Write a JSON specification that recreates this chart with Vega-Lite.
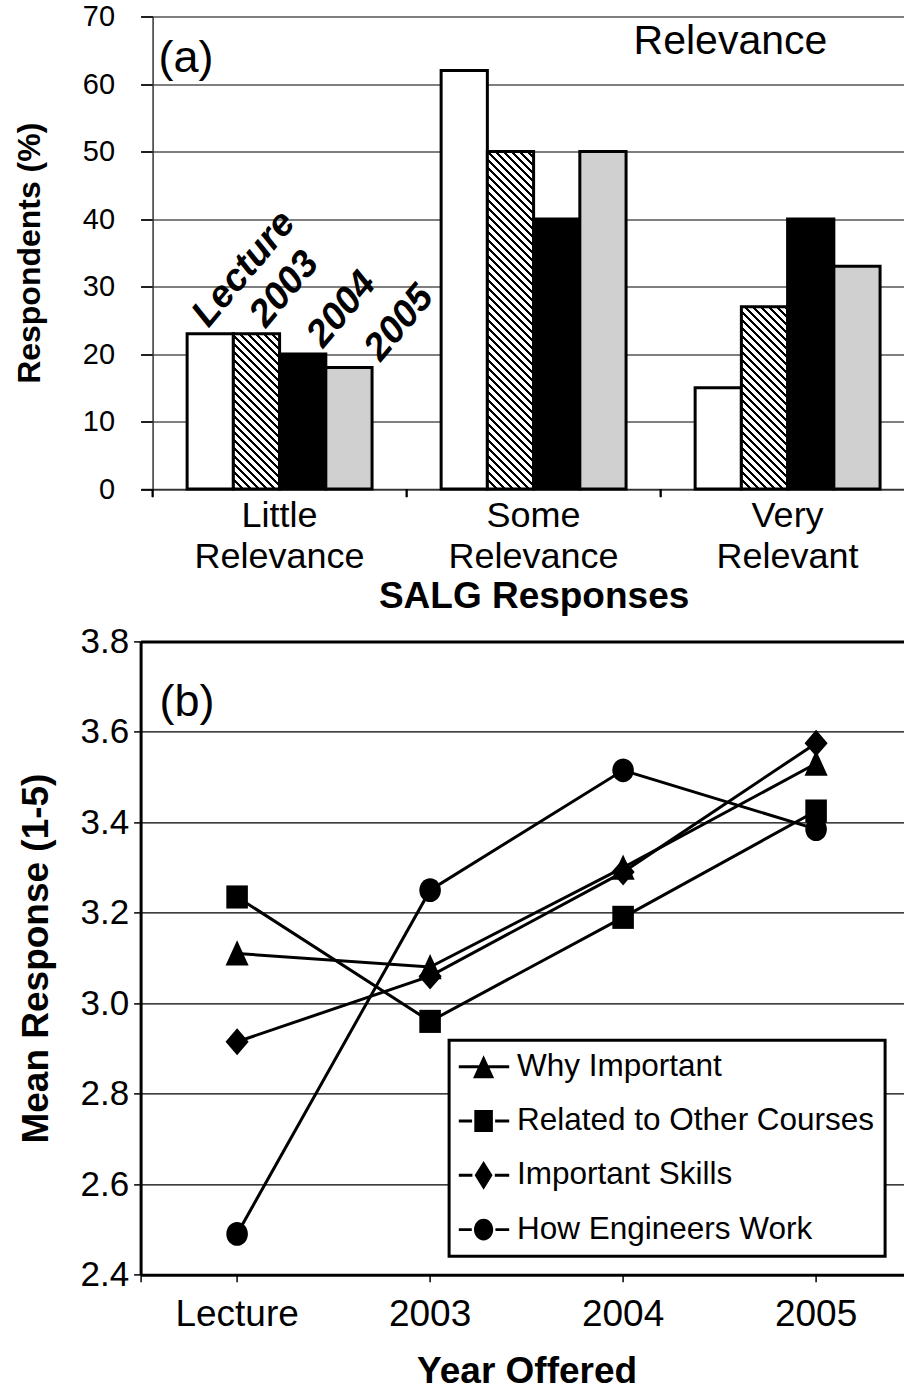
{
  "$schema": "https://vega.github.io/schema/vega-lite/v6.json",
  "padding": {"top": 2.5, "left": 12.6, "right": 0, "bottom": 0},
  "background": "white",
  "config": {
    "font": "Liberation Sans",
    "view": {"stroke": null},
    "axis": {"labelColor": "black", "titleColor": "black", "tickColor": "black", "domainColor": "black", "gridColor": "black", "gridOpacity": 1}
  },
  "datasets": {
    "bars": [
      {"group": "Little Relevance", "year": "Lecture", "pct": 23},
      {"group": "Little Relevance", "year": "2003", "pct": 23},
      {"group": "Little Relevance", "year": "2004", "pct": 20},
      {"group": "Little Relevance", "year": "2005", "pct": 18},
      {"group": "Some Relevance", "year": "Lecture", "pct": 62},
      {"group": "Some Relevance", "year": "2003", "pct": 50},
      {"group": "Some Relevance", "year": "2004", "pct": 40},
      {"group": "Some Relevance", "year": "2005", "pct": 50},
      {"group": "Very Relevant", "year": "Lecture", "pct": 15},
      {"group": "Very Relevant", "year": "2003", "pct": 27},
      {"group": "Very Relevant", "year": "2004", "pct": 40},
      {"group": "Very Relevant", "year": "2005", "pct": 33}
    ],
    "lines": [
      {"series": "Why Important", "year": "Lecture", "value": 3.11},
      {"series": "Why Important", "year": "2003", "value": 3.08},
      {"series": "Why Important", "year": "2004", "value": 3.30},
      {"series": "Why Important", "year": "2005", "value": 3.53},
      {"series": "Related to Other Courses", "year": "Lecture", "value": 3.235},
      {"series": "Related to Other Courses", "year": "2003", "value": 2.96},
      {"series": "Related to Other Courses", "year": "2004", "value": 3.19},
      {"series": "Related to Other Courses", "year": "2005", "value": 3.425},
      {"series": "Important Skills", "year": "Lecture", "value": 2.915},
      {"series": "Important Skills", "year": "2003", "value": 3.06},
      {"series": "Important Skills", "year": "2004", "value": 3.29},
      {"series": "Important Skills", "year": "2005", "value": 3.575},
      {"series": "How Engineers Work", "year": "Lecture", "value": 2.49},
      {"series": "How Engineers Work", "year": "2003", "value": 3.25},
      {"series": "How Engineers Work", "year": "2004", "value": 3.515},
      {"series": "How Engineers Work", "year": "2005", "value": 3.385}
    ]
  },
  "columns": 1,
  "spacing": 9.9,
  "concat": [
    {
      "width": 786,
      "height": 472.5,
      "data": {"name": "bars"},
      "resolve": {"scale": {"xOffset": "independent"}},
      "layer": [
        {
          "mark": {"type": "bar", "stroke": "black", "strokeWidth": 3},
          "encoding": {
            "x": {
              "field": "group", "type": "nominal",
              "sort": ["Little Relevance", "Some Relevance", "Very Relevant"],
              "scale": {"paddingInner": 0, "paddingOuter": 0.0472},
              "axis": {
                "title": "SALG Responses", "titleFontSize": 37, "titleFontWeight": "bold", "titlePadding": 4.3,
                "labelAngle": 0, "labelFontSize": 36, "labelExpr": "split(datum.label, ' ')", "labelLineHeight": 40.6,
                "labelPadding": 9.6, "labelLimit": 0, "ticks": false, "tickSize": 0,
                "domainWidth": 1.5, "domainColor": "#333333", "grid": false
              }
            },
            "xOffset": {
              "field": "year", "type": "nominal", "sort": ["Lecture", "2003", "2004", "2005"],
              "scale": {"paddingInner": 0, "paddingOuter": 0.747}
            },
            "y": {
              "field": "pct", "type": "quantitative",
              "scale": {"domain": [0, 70]},
              "axis": {
                "title": "Respondents (%)", "titleFontSize": 32, "titleFontWeight": "bold", "titlePadding": 36.15,
                "offset": -12,
                "values": [0, 10, 20, 30, 40, 50, 60, 70], "labelFontSize": 29, "labelPadding": 26,
                "tickSize": 12, "tickWidth": 1.5, "domainWidth": 1.5, "domainColor": "#333333",
                "grid": true, "gridWidth": 1.2
              }
            },
            "fill": {
              "condition": [
                {"test": "datum.year === '2003' && datum.group === 'Little Relevance'",
                 "value": {"gradient": "linear", "x1": 0, "y1": 1, "x2": 0.7047, "y2": -1.3666, "stops": [
                  {"offset":0,"color":"#000"},{"offset":0.009,"color":"#000"},{"offset":0.009,"color":"#fff"},{"offset":0.02,"color":"#fff"},
                  {"offset":0.02,"color":"#000"},{"offset":0.029,"color":"#000"},{"offset":0.029,"color":"#fff"},{"offset":0.04,"color":"#fff"},
                  {"offset":0.04,"color":"#000"},{"offset":0.049,"color":"#000"},{"offset":0.049,"color":"#fff"},{"offset":0.06,"color":"#fff"},
                  {"offset":0.06,"color":"#000"},{"offset":0.069,"color":"#000"},{"offset":0.069,"color":"#fff"},{"offset":0.08,"color":"#fff"},
                  {"offset":0.08,"color":"#000"},{"offset":0.089,"color":"#000"},{"offset":0.089,"color":"#fff"},{"offset":0.1,"color":"#fff"},
                  {"offset":0.1,"color":"#000"},{"offset":0.109,"color":"#000"},{"offset":0.109,"color":"#fff"},{"offset":0.12,"color":"#fff"},
                  {"offset":0.12,"color":"#000"},{"offset":0.129,"color":"#000"},{"offset":0.129,"color":"#fff"},{"offset":0.14,"color":"#fff"},
                  {"offset":0.14,"color":"#000"},{"offset":0.149,"color":"#000"},{"offset":0.149,"color":"#fff"},{"offset":0.16,"color":"#fff"},
                  {"offset":0.16,"color":"#000"},{"offset":0.169,"color":"#000"},{"offset":0.169,"color":"#fff"},{"offset":0.18,"color":"#fff"},
                  {"offset":0.18,"color":"#000"},{"offset":0.189,"color":"#000"},{"offset":0.189,"color":"#fff"},{"offset":0.2,"color":"#fff"},
                  {"offset":0.2,"color":"#000"},{"offset":0.209,"color":"#000"},{"offset":0.209,"color":"#fff"},{"offset":0.22,"color":"#fff"},
                  {"offset":0.22,"color":"#000"},{"offset":0.229,"color":"#000"},{"offset":0.229,"color":"#fff"},{"offset":0.24,"color":"#fff"},
                  {"offset":0.24,"color":"#000"},{"offset":0.249,"color":"#000"},{"offset":0.249,"color":"#fff"},{"offset":0.26,"color":"#fff"},
                  {"offset":0.26,"color":"#000"},{"offset":0.269,"color":"#000"},{"offset":0.269,"color":"#fff"},{"offset":0.28,"color":"#fff"},
                  {"offset":0.28,"color":"#000"},{"offset":0.289,"color":"#000"},{"offset":0.289,"color":"#fff"},{"offset":0.3,"color":"#fff"},
                  {"offset":0.3,"color":"#000"},{"offset":0.309,"color":"#000"},{"offset":0.309,"color":"#fff"},{"offset":0.32,"color":"#fff"},
                  {"offset":0.32,"color":"#000"},{"offset":0.329,"color":"#000"},{"offset":0.329,"color":"#fff"},{"offset":0.34,"color":"#fff"},
                  {"offset":0.34,"color":"#000"},{"offset":0.349,"color":"#000"},{"offset":0.349,"color":"#fff"},{"offset":0.36,"color":"#fff"},
                  {"offset":0.36,"color":"#000"},{"offset":0.369,"color":"#000"},{"offset":0.369,"color":"#fff"},{"offset":0.38,"color":"#fff"},
                  {"offset":0.38,"color":"#000"},{"offset":0.389,"color":"#000"},{"offset":0.389,"color":"#fff"},{"offset":0.4,"color":"#fff"},
                  {"offset":0.4,"color":"#000"},{"offset":0.409,"color":"#000"},{"offset":0.409,"color":"#fff"},{"offset":0.42,"color":"#fff"},
                  {"offset":0.42,"color":"#000"},{"offset":0.429,"color":"#000"},{"offset":0.429,"color":"#fff"},{"offset":0.44,"color":"#fff"},
                  {"offset":0.44,"color":"#000"},{"offset":0.449,"color":"#000"},{"offset":0.449,"color":"#fff"},{"offset":0.46,"color":"#fff"},
                  {"offset":0.46,"color":"#000"},{"offset":0.469,"color":"#000"},{"offset":0.469,"color":"#fff"},{"offset":0.48,"color":"#fff"},
                  {"offset":0.48,"color":"#000"},{"offset":0.489,"color":"#000"},{"offset":0.489,"color":"#fff"},{"offset":0.5,"color":"#fff"},
                  {"offset":0.5,"color":"#000"},{"offset":0.509,"color":"#000"},{"offset":0.509,"color":"#fff"},{"offset":0.52,"color":"#fff"}
                 ]}},
                {"test": "datum.year === '2003' && datum.group === 'Some Relevance'",
                 "value": {"gradient": "linear", "x1": 0, "y1": 1, "x2": 0.15936, "y2": -0.16336, "stops": [
                  {"offset":0,"color":"#000"},{"offset":0.009,"color":"#000"},{"offset":0.009,"color":"#fff"},{"offset":0.02,"color":"#fff"},
                  {"offset":0.02,"color":"#000"},{"offset":0.029,"color":"#000"},{"offset":0.029,"color":"#fff"},{"offset":0.04,"color":"#fff"},
                  {"offset":0.04,"color":"#000"},{"offset":0.049,"color":"#000"},{"offset":0.049,"color":"#fff"},{"offset":0.06,"color":"#fff"},
                  {"offset":0.06,"color":"#000"},{"offset":0.069,"color":"#000"},{"offset":0.069,"color":"#fff"},{"offset":0.08,"color":"#fff"},
                  {"offset":0.08,"color":"#000"},{"offset":0.089,"color":"#000"},{"offset":0.089,"color":"#fff"},{"offset":0.1,"color":"#fff"},
                  {"offset":0.1,"color":"#000"},{"offset":0.109,"color":"#000"},{"offset":0.109,"color":"#fff"},{"offset":0.12,"color":"#fff"},
                  {"offset":0.12,"color":"#000"},{"offset":0.129,"color":"#000"},{"offset":0.129,"color":"#fff"},{"offset":0.14,"color":"#fff"},
                  {"offset":0.14,"color":"#000"},{"offset":0.149,"color":"#000"},{"offset":0.149,"color":"#fff"},{"offset":0.16,"color":"#fff"},
                  {"offset":0.16,"color":"#000"},{"offset":0.169,"color":"#000"},{"offset":0.169,"color":"#fff"},{"offset":0.18,"color":"#fff"},
                  {"offset":0.18,"color":"#000"},{"offset":0.189,"color":"#000"},{"offset":0.189,"color":"#fff"},{"offset":0.2,"color":"#fff"},
                  {"offset":0.2,"color":"#000"},{"offset":0.209,"color":"#000"},{"offset":0.209,"color":"#fff"},{"offset":0.22,"color":"#fff"},
                  {"offset":0.22,"color":"#000"},{"offset":0.229,"color":"#000"},{"offset":0.229,"color":"#fff"},{"offset":0.24,"color":"#fff"},
                  {"offset":0.24,"color":"#000"},{"offset":0.249,"color":"#000"},{"offset":0.249,"color":"#fff"},{"offset":0.26,"color":"#fff"},
                  {"offset":0.26,"color":"#000"},{"offset":0.269,"color":"#000"},{"offset":0.269,"color":"#fff"},{"offset":0.28,"color":"#fff"},
                  {"offset":0.28,"color":"#000"},{"offset":0.289,"color":"#000"},{"offset":0.289,"color":"#fff"},{"offset":0.3,"color":"#fff"},
                  {"offset":0.3,"color":"#000"},{"offset":0.309,"color":"#000"},{"offset":0.309,"color":"#fff"},{"offset":0.32,"color":"#fff"},
                  {"offset":0.32,"color":"#000"},{"offset":0.329,"color":"#000"},{"offset":0.329,"color":"#fff"},{"offset":0.34,"color":"#fff"},
                  {"offset":0.34,"color":"#000"},{"offset":0.349,"color":"#000"},{"offset":0.349,"color":"#fff"},{"offset":0.36,"color":"#fff"},
                  {"offset":0.36,"color":"#000"},{"offset":0.369,"color":"#000"},{"offset":0.369,"color":"#fff"},{"offset":0.38,"color":"#fff"},
                  {"offset":0.38,"color":"#000"},{"offset":0.389,"color":"#000"},{"offset":0.389,"color":"#fff"},{"offset":0.4,"color":"#fff"},
                  {"offset":0.4,"color":"#000"},{"offset":0.409,"color":"#000"},{"offset":0.409,"color":"#fff"},{"offset":0.42,"color":"#fff"},
                  {"offset":0.42,"color":"#000"},{"offset":0.429,"color":"#000"},{"offset":0.429,"color":"#fff"},{"offset":0.44,"color":"#fff"},
                  {"offset":0.44,"color":"#000"},{"offset":0.449,"color":"#000"},{"offset":0.449,"color":"#fff"},{"offset":0.46,"color":"#fff"},
                  {"offset":0.46,"color":"#000"},{"offset":0.469,"color":"#000"},{"offset":0.469,"color":"#fff"},{"offset":0.48,"color":"#fff"},
                  {"offset":0.48,"color":"#000"},{"offset":0.489,"color":"#000"},{"offset":0.489,"color":"#fff"},{"offset":0.5,"color":"#fff"},
                  {"offset":0.5,"color":"#000"},{"offset":0.509,"color":"#000"},{"offset":0.509,"color":"#fff"},{"offset":0.52,"color":"#fff"},
                  {"offset":0.52,"color":"#000"},{"offset":0.529,"color":"#000"},{"offset":0.529,"color":"#fff"},{"offset":0.54,"color":"#fff"},
                  {"offset":0.54,"color":"#000"},{"offset":0.549,"color":"#000"},{"offset":0.549,"color":"#fff"},{"offset":0.56,"color":"#fff"},
                  {"offset":0.56,"color":"#000"},{"offset":0.569,"color":"#000"},{"offset":0.569,"color":"#fff"},{"offset":0.58,"color":"#fff"},
                  {"offset":0.58,"color":"#000"},{"offset":0.589,"color":"#000"},{"offset":0.589,"color":"#fff"},{"offset":0.6,"color":"#fff"},
                  {"offset":0.6,"color":"#000"},{"offset":0.609,"color":"#000"},{"offset":0.609,"color":"#fff"},{"offset":0.62,"color":"#fff"},
                  {"offset":0.62,"color":"#000"},{"offset":0.629,"color":"#000"},{"offset":0.629,"color":"#fff"},{"offset":0.64,"color":"#fff"},
                  {"offset":0.64,"color":"#000"},{"offset":0.649,"color":"#000"},{"offset":0.649,"color":"#fff"},{"offset":0.66,"color":"#fff"},
                  {"offset":0.66,"color":"#000"},{"offset":0.669,"color":"#000"},{"offset":0.669,"color":"#fff"},{"offset":0.68,"color":"#fff"},
                  {"offset":0.68,"color":"#000"},{"offset":0.689,"color":"#000"},{"offset":0.689,"color":"#fff"},{"offset":0.7,"color":"#fff"},
                  {"offset":0.7,"color":"#000"},{"offset":0.709,"color":"#000"},{"offset":0.709,"color":"#fff"},{"offset":0.72,"color":"#fff"},
                  {"offset":0.72,"color":"#000"},{"offset":0.729,"color":"#000"},{"offset":0.729,"color":"#fff"},{"offset":0.74,"color":"#fff"},
                  {"offset":0.74,"color":"#000"},{"offset":0.749,"color":"#000"},{"offset":0.749,"color":"#fff"},{"offset":0.76,"color":"#fff"},
                  {"offset":0.76,"color":"#000"},{"offset":0.769,"color":"#000"},{"offset":0.769,"color":"#fff"},{"offset":0.78,"color":"#fff"},
                  {"offset":0.78,"color":"#000"},{"offset":0.789,"color":"#000"},{"offset":0.789,"color":"#fff"},{"offset":0.8,"color":"#fff"},
                  {"offset":0.8,"color":"#000"},{"offset":0.809,"color":"#000"},{"offset":0.809,"color":"#fff"},{"offset":0.82,"color":"#fff"},
                  {"offset":0.82,"color":"#000"},{"offset":0.829,"color":"#000"},{"offset":0.829,"color":"#fff"},{"offset":0.84,"color":"#fff"},
                  {"offset":0.84,"color":"#000"},{"offset":0.849,"color":"#000"},{"offset":0.849,"color":"#fff"},{"offset":0.86,"color":"#fff"},
                  {"offset":0.86,"color":"#000"},{"offset":0.869,"color":"#000"},{"offset":0.869,"color":"#fff"},{"offset":0.88,"color":"#fff"},
                  {"offset":0.88,"color":"#000"},{"offset":0.889,"color":"#000"},{"offset":0.889,"color":"#fff"},{"offset":0.9,"color":"#fff"},
                  {"offset":0.9,"color":"#000"},{"offset":0.909,"color":"#000"},{"offset":0.909,"color":"#fff"},{"offset":0.92,"color":"#fff"},
                  {"offset":0.92,"color":"#000"},{"offset":0.929,"color":"#000"},{"offset":0.929,"color":"#fff"},{"offset":0.94,"color":"#fff"},
                  {"offset":0.94,"color":"#000"},{"offset":0.949,"color":"#000"},{"offset":0.949,"color":"#fff"},{"offset":0.96,"color":"#fff"}
                 ]}},
                {"test": "datum.year === '2003' && datum.group === 'Very Relevant'",
                 "value": {"gradient": "linear", "x1": 0, "y1": 1, "x2": 0.52308, "y2": -1.06216, "stops": [
                  {"offset":0,"color":"#000"},{"offset":0.009,"color":"#000"},{"offset":0.009,"color":"#fff"},{"offset":0.02,"color":"#fff"},
                  {"offset":0.02,"color":"#000"},{"offset":0.029,"color":"#000"},{"offset":0.029,"color":"#fff"},{"offset":0.04,"color":"#fff"},
                  {"offset":0.04,"color":"#000"},{"offset":0.049,"color":"#000"},{"offset":0.049,"color":"#fff"},{"offset":0.06,"color":"#fff"},
                  {"offset":0.06,"color":"#000"},{"offset":0.069,"color":"#000"},{"offset":0.069,"color":"#fff"},{"offset":0.08,"color":"#fff"},
                  {"offset":0.08,"color":"#000"},{"offset":0.089,"color":"#000"},{"offset":0.089,"color":"#fff"},{"offset":0.1,"color":"#fff"},
                  {"offset":0.1,"color":"#000"},{"offset":0.109,"color":"#000"},{"offset":0.109,"color":"#fff"},{"offset":0.12,"color":"#fff"},
                  {"offset":0.12,"color":"#000"},{"offset":0.129,"color":"#000"},{"offset":0.129,"color":"#fff"},{"offset":0.14,"color":"#fff"},
                  {"offset":0.14,"color":"#000"},{"offset":0.149,"color":"#000"},{"offset":0.149,"color":"#fff"},{"offset":0.16,"color":"#fff"},
                  {"offset":0.16,"color":"#000"},{"offset":0.169,"color":"#000"},{"offset":0.169,"color":"#fff"},{"offset":0.18,"color":"#fff"},
                  {"offset":0.18,"color":"#000"},{"offset":0.189,"color":"#000"},{"offset":0.189,"color":"#fff"},{"offset":0.2,"color":"#fff"},
                  {"offset":0.2,"color":"#000"},{"offset":0.209,"color":"#000"},{"offset":0.209,"color":"#fff"},{"offset":0.22,"color":"#fff"},
                  {"offset":0.22,"color":"#000"},{"offset":0.229,"color":"#000"},{"offset":0.229,"color":"#fff"},{"offset":0.24,"color":"#fff"},
                  {"offset":0.24,"color":"#000"},{"offset":0.249,"color":"#000"},{"offset":0.249,"color":"#fff"},{"offset":0.26,"color":"#fff"},
                  {"offset":0.26,"color":"#000"},{"offset":0.269,"color":"#000"},{"offset":0.269,"color":"#fff"},{"offset":0.28,"color":"#fff"},
                  {"offset":0.28,"color":"#000"},{"offset":0.289,"color":"#000"},{"offset":0.289,"color":"#fff"},{"offset":0.3,"color":"#fff"},
                  {"offset":0.3,"color":"#000"},{"offset":0.309,"color":"#000"},{"offset":0.309,"color":"#fff"},{"offset":0.32,"color":"#fff"},
                  {"offset":0.32,"color":"#000"},{"offset":0.329,"color":"#000"},{"offset":0.329,"color":"#fff"},{"offset":0.34,"color":"#fff"},
                  {"offset":0.34,"color":"#000"},{"offset":0.349,"color":"#000"},{"offset":0.349,"color":"#fff"},{"offset":0.36,"color":"#fff"},
                  {"offset":0.36,"color":"#000"},{"offset":0.369,"color":"#000"},{"offset":0.369,"color":"#fff"},{"offset":0.38,"color":"#fff"},
                  {"offset":0.38,"color":"#000"},{"offset":0.389,"color":"#000"},{"offset":0.389,"color":"#fff"},{"offset":0.4,"color":"#fff"},
                  {"offset":0.4,"color":"#000"},{"offset":0.409,"color":"#000"},{"offset":0.409,"color":"#fff"},{"offset":0.42,"color":"#fff"},
                  {"offset":0.42,"color":"#000"},{"offset":0.429,"color":"#000"},{"offset":0.429,"color":"#fff"},{"offset":0.44,"color":"#fff"},
                  {"offset":0.44,"color":"#000"},{"offset":0.449,"color":"#000"},{"offset":0.449,"color":"#fff"},{"offset":0.46,"color":"#fff"},
                  {"offset":0.46,"color":"#000"},{"offset":0.469,"color":"#000"},{"offset":0.469,"color":"#fff"},{"offset":0.48,"color":"#fff"},
                  {"offset":0.48,"color":"#000"},{"offset":0.489,"color":"#000"},{"offset":0.489,"color":"#fff"},{"offset":0.5,"color":"#fff"},
                  {"offset":0.5,"color":"#000"},{"offset":0.509,"color":"#000"},{"offset":0.509,"color":"#fff"},{"offset":0.52,"color":"#fff"},
                  {"offset":0.52,"color":"#000"},{"offset":0.529,"color":"#000"},{"offset":0.529,"color":"#fff"},{"offset":0.54,"color":"#fff"},
                  {"offset":0.54,"color":"#000"},{"offset":0.549,"color":"#000"},{"offset":0.549,"color":"#fff"},{"offset":0.56,"color":"#fff"},
                  {"offset":0.56,"color":"#000"},{"offset":0.569,"color":"#000"},{"offset":0.569,"color":"#fff"},{"offset":0.58,"color":"#fff"}
                 ]}}
              ],
              "field": "year", "type": "nominal",
              "scale": {"domain": ["Lecture", "2003", "2004", "2005"], "range": ["#ffffff", "#8a8a8a", "#000000", "#d0d0d0"]},
              "legend": null
            }
          }
        },
        {
          "mark": {"type": "rule", "color": "black", "strokeWidth": 1.5},
          "encoding": {
            "x": {"field": "group", "type": "nominal", "sort": ["Little Relevance", "Some Relevance", "Very Relevant"], "bandPosition": 0},
            "y": {"datum": 0, "type": "quantitative"},
            "y2": {"datum": -1.2}
          }
        },
        {
          "transform": [{"filter": "datum.group === 'Little Relevance'"}],
          "mark": {"type": "text", "angle": -50, "align": "left", "baseline": "alphabetic", "dx": 13.5, "dy": 8.3,
                   "fontSize": 38, "fontWeight": "bold", "fontStyle": "italic", "font": "Liberation Sans", "color": "black"},
          "encoding": {
            "x": {"field": "group", "type": "nominal", "sort": ["Little Relevance", "Some Relevance", "Very Relevant"]},
            "xOffset": {"field": "year", "type": "nominal", "sort": ["Lecture", "2003", "2004", "2005"], "scale": {"type": "point", "padding": 0.71}},
            "y": {"field": "pct", "type": "quantitative"},
            "text": {"field": "year"}
          }
        },
        {
          "data": {"values": [{"label": "(a)"}]},
          "mark": {"type": "text", "align": "left", "baseline": "alphabetic", "fontSize": 45, "dx": -121, "font": "Liberation Sans", "color": "black"},
          "encoding": {
            "x": {"datum": "Little Relevance"},
            "y": {"datum": 61.85, "type": "quantitative"},
            "text": {"field": "label"}
          }
        },
        {
          "data": {"values": [{"label": "Relevance"}]},
          "mark": {"type": "text", "align": "left", "baseline": "alphabetic", "fontSize": 41, "dx": -154, "font": "Liberation Sans", "color": "black"},
          "encoding": {
            "x": {"datum": "Very Relevant"},
            "y": {"datum": 64.4, "type": "quantitative"},
            "text": {"field": "label"}
          }
        }
      ]
    },
    {
      "width": 772,
      "height": 633.3,
      "data": {"name": "lines"},
      "resolve": {"scale": {"shape": "independent"}, "axis": {"x": "independent"}, "legend": {"shape": "independent"}},
      "layer": [
        {
          "mark": {"type": "line", "color": "black", "strokeWidth": 3},
          "encoding": {
            "x": {
              "field": "year", "type": "nominal", "sort": ["Lecture", "2003", "2004", "2005"], "bandPosition": 0.5,
              "scale": {"type": "band", "paddingInner": 0, "paddingOuter": 0},
              "axis": {
                "title": "Year Offered", "titleFontSize": 37, "titleFontWeight": "bold", "titlePadding": 21,
                "labelAngle": 0, "labelFontSize": 37, "labelPadding": 14.8, "tickSize": 7, "tickWidth": 1.5,
                "tickExtra": true, "domainWidth": 3, "grid": false
              }
            },
            "y": {
              "field": "value", "type": "quantitative",
              "scale": {"domain": [2.4, 3.8]},
              "axis": {
                "title": "Mean Response (1-5)", "titleFontSize": 37, "titleFontWeight": "bold", "titlePadding": 24.05,
                "values": [2.4, 2.6, 2.8, 3.0, 3.2, 3.4, 3.6, 3.8], "format": ".1f",
                "labelFontSize": 35, "labelPadding": 5, "tickSize": 7, "tickWidth": 1.5,
                "domainWidth": 3, "grid": true, "gridWidth": 1.2
              }
            },
            "detail": {"field": "series"}
          }
        },
        {
          "mark": {"type": "point", "filled": true, "color": "black", "opacity": 1, "size": 484},
          "encoding": {
            "x": {
              "field": "year", "type": "nominal", "sort": ["Lecture", "2003", "2004", "2005"], "bandPosition": 0.5,
              "axis": {"orient": "top", "labels": false, "ticks": false, "title": null, "domainWidth": 3, "grid": false}
            },
            "y": {"field": "value", "type": "quantitative"},
            "shape": {
              "field": "series", "type": "nominal",
              "scale": {
                "domain": ["Why Important", "Related to Other Courses", "Important Skills", "How Engineers Work"],
                "range": [
                  "M0,-1.2L1.05,1.1L-1.05,1.1Z",
                  "M-0.98,-1.05H0.98V1.05H-0.98Z",
                  "M0,-1.22L1.05,0L0,1.22L-1.05,0Z",
                  "M-0.98,0A0.98,1.08 0 1,0 0.98,0A0.98,1.08 0 1,0 -0.98,0Z"
                ]
              },
              "legend": null
            }
          }
        },
        {
          "mark": {"type": "point", "filled": true, "color": "black", "opacity": 0, "size": 1024},
          "encoding": {
            "x": {"field": "year", "type": "nominal", "sort": ["Lecture", "2003", "2004", "2005"], "bandPosition": 0.5, "axis": null},
            "y": {"field": "value", "type": "quantitative"},
            "shape": {
              "field": "series", "type": "nominal",
              "scale": {
                "domain": ["Why Important", "Related to Other Courses", "Important Skills", "How Engineers Work"],
                "range": [
                  "M-1.05,-0.09H0.2V0.09H-1.05Z M0.8,-0.09H2.1V0.09H0.8Z M0.5,-0.72L1.16,0.72L-0.16,0.72Z",
                  "M-1.05,-0.09H-0.22V0.09H-1.05Z M1.22,-0.09H2.1V0.09H1.22Z M-0.08,-0.68H1.08V0.68H-0.08Z",
                  "M-1.05,-0.09H-0.2V0.09H-1.05Z M1.2,-0.09H2.1V0.09H1.2Z M0.5,-0.9L1.06,0L0.5,0.9L-0.06,0Z",
                  "M-1.05,-0.09H-0.24V0.09H-1.05Z M1.24,-0.09H2.1V0.09H1.24Z M-0.1,0A0.6,0.68 0 1,0 1.1,0A0.6,0.68 0 1,0 -0.1,0Z"
                ]
              },
              "legend": {
                "title": null, "orient": "none", "legendX": 308.5, "legendY": 398.8, "direction": "vertical",
                "labelFontSize": 31.5, "labelColor": "black", "labelLimit": 0, "labelOffset": 25.5,
                "symbolSize": 1024, "symbolOpacity": 1, "symbolFillColor": "black", "symbolStrokeWidth": 0,
                "rowPadding": 22.3, "padding": 10.5, "strokeColor": "black", "fillColor": "white",
                "encoding": {"legend": {"strokeWidth": {"value": 3}}}
              }
            }
          }
        },
        {
          "data": {"values": [{"label": "(b)"}]},
          "mark": {"type": "text", "align": "left", "baseline": "alphabetic", "fontSize": 45, "dx": -77.5, "font": "Liberation Sans", "color": "black"},
          "encoding": {
            "x": {"datum": "Lecture", "axis": null},
            "y": {"datum": 3.635, "type": "quantitative"},
            "text": {"field": "label"}
          }
        }
      ]
    }
  ]
}
